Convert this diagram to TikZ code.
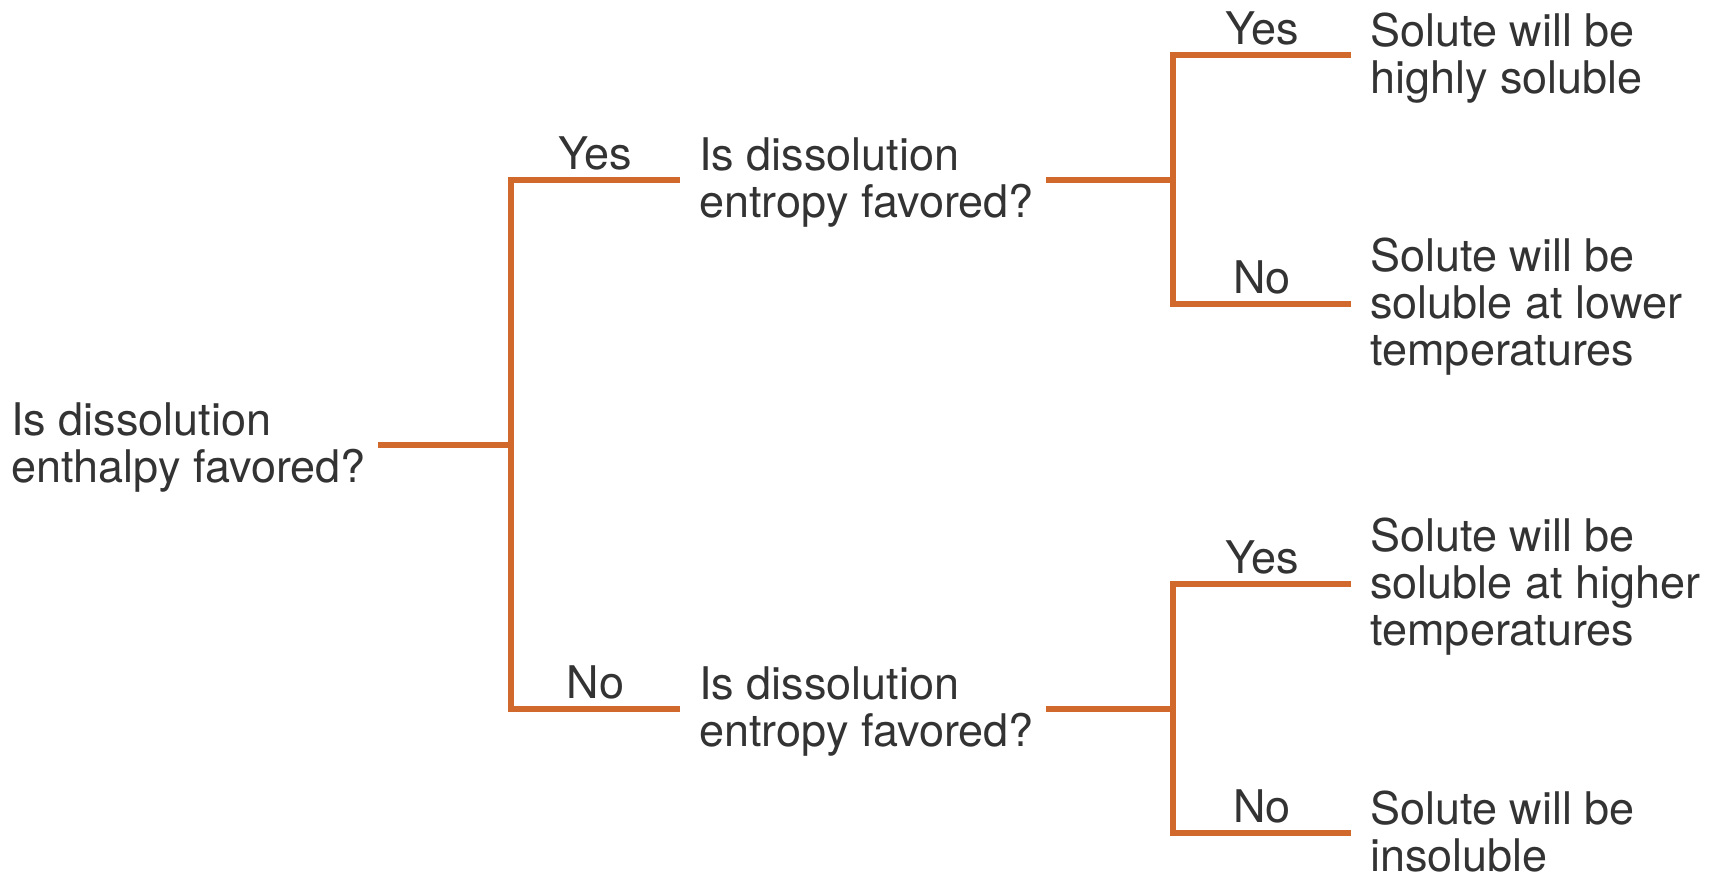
\documentclass[tikz,border=0pt]{standalone}
\usepackage{fontspec}
\setmainfont{TeX Gyre Heros}
\definecolor{branchorange}{RGB}{209,104,44}
\definecolor{txtgray}{RGB}{51,51,51}
\begin{document}
\begin{tikzpicture}[font=\fontsize{12.8}{13.3}\selectfont,
  txt/.style={right,align=left,text=txtgray,text depth=0pt,inner ysep=0.5pt,xshift=2pt,yshift=0.6pt},
  lbl/.style={above,text=txtgray,yshift=-1.5pt},
  branch/.style={draw=branchorange,line width=1.8pt}]
  \useasboundingbox (0,0) rectangle (17.19,-8.75);
  % first question
  \node[txt,anchor=west] (enth) at (-0.08,-4.45) {Is dissolution\\enthalpy favored?};
  \coordinate (fork1) at (5.11,-4.45);
  \coordinate (yes1) at (6.80,-1.80);
  \coordinate (no1) at (6.80,-7.09);
  \draw[branch] (enth.east |- fork1) -- (fork1);
  \draw[branch] (yes1) -| node[lbl,pos=0.25]{Yes} (fork1) |- node[lbl,pos=0.75]{No} (no1);
  % second questions
  \node[txt] (ent1) at (yes1) {Is dissolution\\entropy favored?};
  \node[txt] (ent2) at (no1) {Is dissolution\\entropy favored?};
  \coordinate (fork2) at (11.73,-1.80);
  \coordinate (fork3) at (11.73,-7.09);
  \draw[branch] (ent1.east |- fork2) -- (fork2);
  \draw[branch] (ent2.east |- fork3) -- (fork3);
  \coordinate (leafA) at (13.51,-0.55);
  \coordinate (leafB) at (13.51,-3.04);
  \coordinate (leafC) at (13.51,-5.84);
  \coordinate (leafD) at (13.51,-8.33);
  \draw[branch] (leafA) -| node[lbl,pos=0.25]{Yes} (fork2) |- node[lbl,pos=0.75]{No} (leafB);
  \draw[branch] (leafC) -| node[lbl,pos=0.25]{Yes} (fork3) |- node[lbl,pos=0.75]{No} (leafD);
  % outcomes
  \node[txt] (solA) at (leafA) {Solute will be\\highly soluble};
  \node[txt] (solB) at (leafB) {Solute will be\\soluble at lower\\temperatures};
  \node[txt] (solC) at (leafC) {Solute will be\\soluble at higher\\temperatures};
  \node[txt] (solD) at (leafD) {Solute will be\\insoluble};
\end{tikzpicture}
\end{document}
